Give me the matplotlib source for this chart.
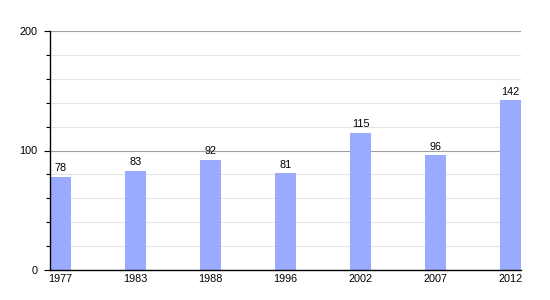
import numpy as np
import matplotlib
matplotlib.use("Agg")
import matplotlib.pyplot as plt
from matplotlib.ticker import MultipleLocator

years = ["1977", "1983", "1988", "1996", "2002", "2007", "2012"]
population = [78, 83, 92, 81, 115, 96, 142]

plt.rcParams['font.family'] = ['Liberation Sans', 'DejaVu Sans']

fig = plt.figure(figsize=(5.5, 3), dpi=100)
ax = fig.add_axes([50/550, 30/300, 471/550, 239/300])

w = 0.28
x = np.arange(len(years))
ax.bar(x, population, width=w, align='edge', color='#99aaff', zorder=3)
for xi, v in zip(x, population):
    ax.text(xi + w/2, v + 3, str(v), ha='center', va='bottom', fontsize=7.8, zorder=4)

ax.set_xlim(0, len(years) - 1 + w)
ax.set_ylim(0, 200)
ax.set_xticks(x + w/2)
ax.set_xticklabels(years, fontsize=7.8)
ax.yaxis.set_major_locator(MultipleLocator(100))
ax.yaxis.set_minor_locator(MultipleLocator(20))
ax.tick_params(axis='y', labelsize=7.8, length=4, width=0.8, pad=5)
ax.tick_params(axis='y', which='minor', length=3, width=0.8)
ax.tick_params(axis='x', length=0, pad=3)

ax.grid(axis='y', which='major', color='#a0a0a0', linewidth=0.8, zorder=1)
ax.grid(axis='y', which='minor', color='#e4e4e4', linewidth=0.8, zorder=1)

for s in ['top', 'right']:
    ax.spines[s].set_visible(False)
for s in ['left', 'bottom']:
    ax.spines[s].set_color('black')
    ax.spines[s].set_linewidth(1)
    ax.spines[s].set_zorder(5)

fig.savefig("out.png", dpi=100)
